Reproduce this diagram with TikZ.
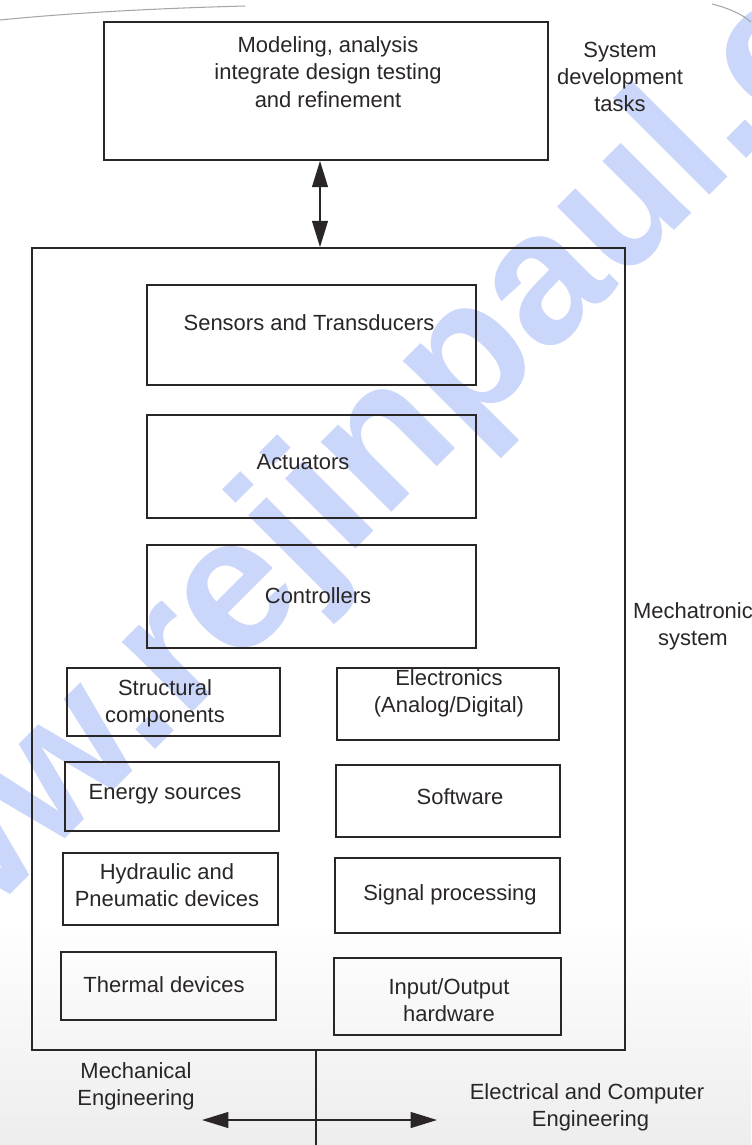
\documentclass[tikz,border=0pt]{standalone}
\usepackage{fontspec}
\setmainfont{Liberation Sans}
\usetikzlibrary{arrows.meta}
\definecolor{ink}{RGB}{42,38,38}
\definecolor{wmark}{RGB}{202,214,250}
\newcommand\lblfont{\fontsize{12.5}{15.5}\selectfont}
\begin{document}
\begin{tikzpicture}[x=0.02cm,y=-0.02cm,
  box/.style={draw=ink,line width=1pt,inner sep=0pt},
  sz/.style 2 args={minimum width=#1*0.02cm,minimum height=#2*0.02cm},
  txt/.style={align=center,inner sep=0pt,font=\lblfont,text=ink},
  ln/.style={draw=ink,line width=1pt},
  dbl/.style={ln,{Triangle[length=15pt,width=9pt]}-{Triangle[length=15pt,width=9pt]}},
  wm/.style={inner sep=0pt,text=wmark,font=\fontsize{107}{107}\selectfont\bfseries}]
\useasboundingbox (0,0) rectangle (751,1145);
\fill[white] (0,0) rectangle (751,1145);
\shade[top color=white,bottom color=black!7] (0,920) rectangle (751,1145);
\begin{scope}
  \clip (0,0) rectangle (751,1145);
  \node[wm,rotate=45] (wmk) at (410,426) {www.rejinpaul.com};
\end{scope}
% page edges at the top
\draw[black!35,line width=0.6pt] (0,20) .. controls (80,12) and (170,8) .. (245,6);
\draw[black!35,line width=0.6pt] (712,4) .. controls (728,8) and (742,14) .. (751,22);

% system development block
\node[box,sz={444}{138}] (dev) at (326,91) {};
\node[txt] (devtxt) at (328,72) {Modeling, analysis\\integrate design testing\\and refinement};
\node[txt] (devlbl) at (620,77) {System\\development\\tasks};

% mechatronic system block
\node[box,sz={593}{802}] (sys) at (328.5,649) {};
\node[txt] (syslbl) at (693,626) {Mechatronic\\system};

\node[box,sz={329}{100}] (sens) at (311.5,335) {};
\node[txt] (senstxt) at (309,323) {Sensors and Transducers};
\node[box,sz={329}{103}] (act) at (311.5,466.5) {};
\node[txt] (acttxt) at (303,462) {Actuators};
\node[box,sz={329}{103}] (ctl) at (311.5,596.5) {};
\node[txt] (ctltxt) at (318,596) {Controllers};

\node[box,sz={213}{68}] (str) at (173.5,702) {};
\node[txt] (strtxt) at (165,703.5) {Structural\\components};
\node[box,sz={214}{69}] (eng) at (172,796.5) {};
\node[txt] (engtxt) at (165,794) {Energy sources};
\node[box,sz={215}{72}] (hyd) at (170.5,889) {};
\node[txt] (hydtxt) at (167,885.5) {Hydraulic and\\Pneumatic devices};
\node[box,sz={215}{68}] (thm) at (168.5,986) {};
\node[txt] (thmtxt) at (164,985) {Thermal devices};

\node[box,sz={222}{72}] (ele) at (448,704) {};
\node[txt] (eletxt) at (449,693.5) {Electronics\\(Analog/Digital)};
\node[box,sz={224}{72}] (sw) at (448,801) {};
\node[txt] (swtxt) at (460,797) {Software};
\node[box,sz={225}{75}] (sig) at (447.5,895.5) {};
\node[txt] (sigtxt) at (450,895) {Signal processing};
\node[box,sz={227}{77}] (io) at (447.5,996.5) {};
\node[txt] (iotxt) at (449,1000) {Input/Output\\hardware};

% link between the two blocks
\coordinate (ax) at (320,0);
\draw[dbl] (dev.south -| ax) -- (sys.north -| ax);

% disciplines below
\coordinate (stem) at (316,1145);
\draw[ln] (sys.south -| stem) -- (stem);
\node[txt] (mechlbl) at (136,1086) {Mechanical\\Engineering};
\node[txt] (eclbl) at (587,1107.5) {Electrical and Computer\\\hspace*{4pt}Engineering};
\coordinate (ml) at (202,1120);
\coordinate (er) at (437,1120);
\draw[dbl] (ml) -- (er);
\end{tikzpicture}
\end{document}
